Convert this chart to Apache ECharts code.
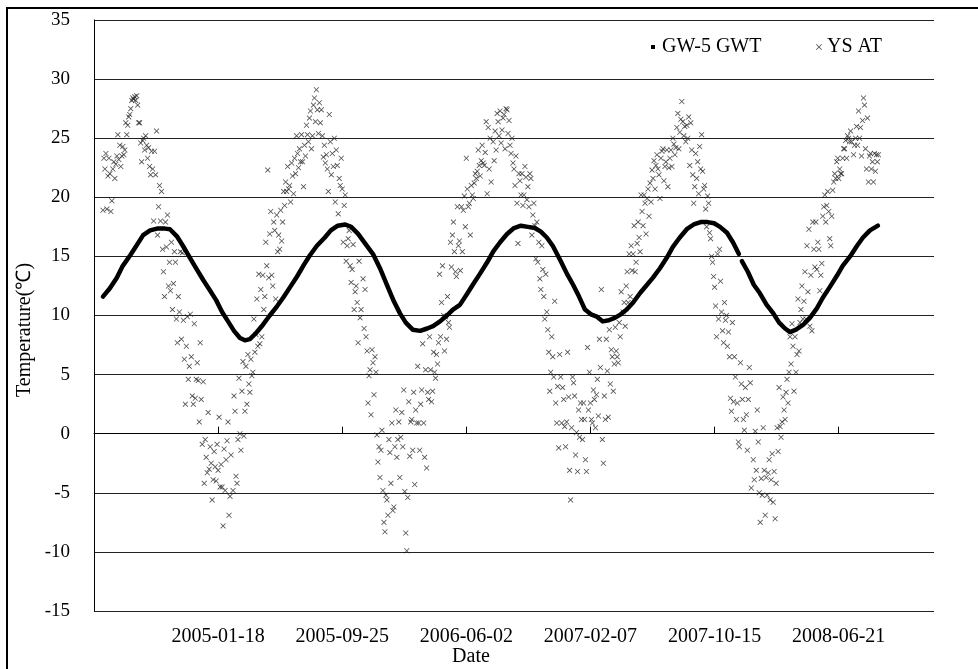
<!DOCTYPE html>
<html><head><meta charset="utf-8">
<script src="https://cdn.jsdelivr.net/npm/echarts@6/dist/echarts.min.js"></script>
<style>html,body{margin:0;padding:0;background:#fff}#c{width:978px;height:669px}</style>
</head><body><div id="c"></div>
<script>
// Day offsets are counted from the axis origin date 2004-05-13
const baseDate = '2004-05-13';
const axisMaxDate = '2008-12-30';
const tickDates = ['2005-01-18','2005-09-25','2006-06-02','2007-02-07','2007-10-15','2008-06-21'];
const yTicks = [-15,-10,-5,0,5,10,15,20,25,30,35];
const seriesNames = ['GW-5 GWT','YS AT'];

// GW-5 groundwater temperature (day offset, value)
const gwtDays = [18,32,46,58,73,87,99,113,127,143,153,167,179,193,207,220,234,246,258,270,282,294,304,314,326,340,354,369,381,395,409,423,435,449,465,477,491,506,518,532,546,562,576,590,604,616,628,642,657,671,683,697,711,723,737,751,763,777,792,804,818,832,846,860,874,888,900,912,924,939,953,965,977,989,1001,1013,1025,1037,1049,1061,1073,1086,1100,1114,1126,1140,1154,1166,1180,1194,1208,1222,1236,1249,1261,1275,1287,1299,1303,1305,1317,1329,1341,1355,1368,1380,1392,1402,1414,1428,1442,1456,1468,1482,1497,1508,1523,1537,1549,1563,1579];
const gwtValues = [11.6,12.3,13.2,14.2,15.1,16.0,16.8,17.2,17.35,17.35,17.3,16.7,15.9,14.9,13.9,13.0,12.1,11.3,10.3,9.5,8.7,8.1,7.9,8.0,8.5,9.2,10.0,10.8,11.5,12.4,13.3,14.3,15.1,15.9,16.6,17.2,17.6,17.7,17.5,16.9,16.1,15.2,14.0,12.6,11.2,10.2,9.4,8.8,8.7,8.9,9.1,9.5,10.0,10.5,10.9,11.8,12.6,13.5,14.5,15.4,16.2,16.9,17.4,17.6,17.5,17.4,17.1,16.6,15.9,14.7,13.5,12.6,11.6,10.5,10.1,9.9,9.5,9.6,9.8,10.1,10.5,11.1,11.9,12.6,13.2,14.0,14.9,15.8,16.6,17.3,17.7,17.9,17.9,17.8,17.5,17.0,16.2,15.2,null,14.6,13.7,12.6,11.9,10.9,10.2,9.4,8.9,8.6,8.8,9.2,9.8,10.6,11.5,12.4,13.4,14.2,15.0,15.9,16.6,17.2,17.6];

// YS air temperature: one reading every 2 days from day offset 18 (null = missing)
const atStartDay = 18;
const atStepDays = 2;
const atValues = [
18.9,23.3,22.4,23.7,19.0,21.8,23.3,22.0,18.8,19.7,
22.4,23.0,21.6,22.8,23.5,25.3,23.2,24.4,22.6,23.5,
24.3,23.6,24.0,26.3,25.3,26.1,26.8,27.0,27.5,28.2,
28.4,28.3,28.5,28.2,28.6,27.8,26.3,26.3,24.6,23.0,
24.8,25.0,24.0,25.2,24.4,23.3,24.2,22.6,21.9,23.9,
22.4,18.0,23.9,21.9,25.6,16.8,19.2,21.0,18.0,20.5,
15.6,13.7,11.6,17.9,15.8,18.5,12.5,14.5,12.1,16.2,
10.5,12.7,15.4,14.5,9.7,7.7,11.6,10.3,15.4,8.0,
15.3,9.6,6.3,2.5,7.4,9.9,4.6,5.7,10.1,6.5,
3.2,2.5,9.3,3.0,4.6,6.0,4.5,1.0,7.7,2.9,
-0.9,4.4,-4.2,-0.5,-2.0,-3.3,1.8,-3.0,-1.1,-2.5,
-5.6,-3.9,-1.5,-2.8,-4.0,-0.9,-3.1,1.4,-4.5,-2.6,
-4.5,-7.8,-1.3,-4.8,-2.2,-0.6,1.0,-6.9,-5.3,-1.8,
null,-4.8,3.2,1.9,-3.6,-4.2,-0.5,4.7,0.0,-1.4,3.6,
6.1,-0.2,1.9,5.7,2.5,6.7,4.2,3.5,6.3,4.9,
5.2,9.7,6.9,8.4,11.4,7.4,13.5,7.6,12.2,8.2,
13.4,10.5,11.6,16.2,14.2,22.3,13.2,16.9,18.8,13.4,
12.5,17.9,17.2,11.4,18.5,15.4,16.8,15.6,18.9,16.3,
17.9,20.5,19.3,21.3,20.5,22.6,20.7,21.0,19.6,22.9,
21.8,20.3,23.3,22.0,25.2,23.7,22.5,24.1,23.0,25.3,
23.0,20.9,24.4,23.5,26.1,25.3,24.7,26.7,27.3,24.1,
25.2,27.8,28.4,26.4,29.1,27.4,25.4,28.0,26.3,27.4,
25.2,23.4,24.4,22.9,23.6,22.4,20.5,27.0,24.7,21.9,
23.7,22.6,25.0,19.6,24.0,22.7,18.6,21.6,21.0,23.3,
20.7,16.2,19.3,20.2,14.6,15.9,16.5,17.2,14.2,12.8,
13.9,16.0,10.5,12.0,12.5,11.1,7.7,14.6,9.8,10.5,
null,13.1,8.9,12.2,8.2,7.0,2.6,4.9,5.4,1.6,7.1,
6.0,3.3,6.5,5.2,-0.1,-2.4,-1.1,-3.7,-1.4,0.3,
-4.8,-7.5,-8.3,-5.2,-5.6,-6.9,-0.5,-1.6,-4.2,0.9,
-6.5,-6.2,-1.1,2.0,-2.0,-0.5,1.0,-3.7,-0.3,1.8,
-1.1,3.7,-4.9,-8.4,-9.9,-5.4,2.7,-1.9,1.0,1.2,
-1.4,3.5,-4.3,2.0,0.9,5.7,0.9,-1.4,2.5,3.7,
7.6,0.9,-2.0,5.4,-2.9,3.5,2.9,8.2,5.4,2.7,
3.6,6.9,5.2,4.7,6.7,5.9,7.7,13.5,8.2,11.1,
14.2,10.0,7.0,9.9,8.0,11.6,9.4,9.0,16.2,14.1,
16.8,17.9,15.4,13.7,13.3,19.2,15.9,16.3,13.8,19.2,
15.4,18.9,20.1,17.5,23.3,20.7,19.2,19.5,16.8,21.0,
20.2,19.9,21.2,22.0,21.6,22.2,24.0,22.7,21.8,23.1,
24.4,22.9,22.7,23.8,26.4,20.3,25.9,22.4,25.0,21.3,
null,24.7,23.1,25.6,24.0,27.1,26.4,25.2,27.3,24.6,25.7,
26.7,27.0,24.1,27.5,27.4,25.4,26.5,24.4,23.7,25.0,
22.9,22.4,21.0,23.5,19.5,16.1,22.0,21.4,20.2,22.0,
19.3,20.2,22.6,21.7,19.8,20.9,19.2,22.0,21.6,16.8,
18.5,19.5,17.6,14.8,17.9,14.5,16.2,13.1,12.2,15.9,
13.9,11.6,9.7,13.5,10.3,8.8,6.9,3.6,5.2,8.2,
6.5,4.8,11.2,2.6,0.9,4.0,-1.2,6.7,4.8,0.9,
3.9,2.9,0.6,-1.1,1.0,6.9,3.1,-3.1,-5.6,0.5,
4.8,4.3,3.2,-1.8,0.1,-3.2,2.0,-0.3,2.6,1.2,
-0.5,2.6,1.2,-2.2,-3.2,7.3,2.0,5.2,2.6,1.2,
0.9,3.7,2.9,0.5,3.3,4.6,1.5,8.0,5.6,12.2,
-0.5,-2.5,3.2,1.2,8.0,5.3,1.4,8.8,4.2,7.1,
6.5,3.6,5.9,9.0,7.0,6.5,6.0,9.4,8.2,12.0,
null,10.3,11.1,9.1,12.5,13.7,11.1,15.2,11.6,15.9,13.8,
15.2,17.6,13.7,14.5,16.1,17.9,16.6,15.4,20.2,18.8,
17.6,20.2,19.5,16.9,19.9,20.7,18.4,21.2,19.6,22.3,
21.6,23.1,20.7,22.7,23.6,22.4,21.9,19.9,23.3,23.9,
24.1,21.4,22.6,23.0,24.0,20.9,22.5,23.3,24.0,22.6,
25.0,24.5,23.6,24.2,25.9,27.1,24.1,25.5,26.6,28.1,
26.4,25.2,26.0,24.7,26.1,25.0,26.8,22.7,26.3,24.0,
21.9,19.5,20.9,23.7,21.6,23.0,20.3,24.3,22.4,25.3,
22.2,20.7,21.0,19.0,17.5,20.1,19.5,17.0,16.5,15.0,
14.5,13.3,12.4,10.8,8.2,15.2,9.7,15.6,12.9,10.3,
8.7,7.7,11.1,9.6,10.0,7.4,8.6,6.5,3.0,1.9,
9.4,2.7,6.5,4.8,1.2,2.6,-0.7,-1.1,6.0,4.2,
2.9,1.2,0.3,3.9,1.6,-1.4,2.9,5.6,4.3,-4.6,
null,-2.2,-3.9,0.2,-3.1,2.0,-0.7,-5.0,-7.5,-3.8,-5.2,
0.5,-3.1,-6.9,-3.7,-5.2,-3.3,-2.2,-5.6,-3.9,-1.7,
-5.8,-3.2,-7.2,-4.2,0.5,-1.5,3.9,0.6,-0.3,1.0,
3.1,2.0,1.2,3.5,4.6,2.6,5.2,8.2,5.9,9.3,
7.4,3.6,8.2,5.2,6.7,11.4,7.0,9.4,10.5,12.5,
9.7,11.2,13.7,9.7,15.9,12.0,17.3,9.1,13.4,8.7,
17.9,15.6,14.1,17.9,13.9,16.2,15.6,12.1,13.4,14.4,
18.4,19.2,20.2,17.9,19.3,20.5,18.8,16.5,15.9,18.4,
20.6,21.3,22.0,21.6,23.0,23.3,21.6,22.4,22.0,22.0,
23.3,24.1,24.1,24.8,23.3,25.2,25.0,24.7,25.6,24.7,
null,23.6,24.4,25.0,26.0,24.4,27.3,25.0,25.9,23.5,26.5,
28.4,27.8,24.1,22.4,26.7,21.3,23.5,23.7,22.4,23.0,
21.3,23.7,22.2,23.6,23.0,23.6
];

const DAY = 86400000;
const base = Date.parse(baseDate + 'T00:00:00Z');
const toDay = s => Math.round((Date.parse(s + 'T00:00:00Z') - base) / DAY);
const fmt = d => new Date(base + d * DAY).toISOString().slice(0, 10);
const tickDays = tickDates.map(toDay);
const gwtData = gwtDays.map((d, i) => [d, gwtValues[i]]);
const atData = [];
atValues.forEach((v, i) => { if (v !== null) atData.push([atStartDay + i * atStepDays, v]); });

const SERIF = '"Liberation Serif","Times New Roman",serif';
const xPath = 'path://M0,1L1,0L5,4L9,0L10,1L6,5L10,9L9,10L5,6L1,10L0,9L4,5Z';

const chart = echarts.init(document.getElementById('c'), null, {renderer: 'canvas'});
chart.setOption({
  animation: false,
  backgroundColor: '#fff',
  grid: {left: 94, right: 44, top: 20, bottom: 58, containLabel: false},
  legend: [
    {data: [{name: seriesNames[0], icon: 'rect'}], left: 651, top: 37, padding: 0,
     itemWidth: 4, itemHeight: 4, textStyle: {fontFamily: SERIF, fontSize: 20, color: '#000', padding: [0,0,0,2]}},
    {data: [{name: seriesNames[1], icon: xPath}], left: 816, top: 37, padding: 0,
     itemWidth: 6, itemHeight: 6, textStyle: {fontFamily: SERIF, fontSize: 20, color: '#000'}}
  ],
  xAxis: {
    type: 'value', min: 0, max: toDay(axisMaxDate), interval: 250,
    axisLine: {show: true, lineStyle: {color: '#000', width: 1}},
    axisTick: {show: true, inside: true, length: 7, customValues: tickDays, lineStyle: {color: '#000'}},
    axisLabel: {customValues: tickDays, formatter: v => fmt(v), fontFamily: SERIF, fontSize: 20, color: '#000', margin: 16},
    splitLine: {show: false}
  },
  yAxis: {
    type: 'value', min: yTicks[0], max: yTicks[yTicks.length - 1], interval: 5,
    axisLine: {show: true, lineStyle: {color: '#000', width: 1}},
    axisTick: {show: false},
    axisLabel: {fontFamily: SERIF, fontSize: 19, color: '#000', margin: 24},
    splitLine: {show: true, lineStyle: {color: '#222', width: 1}}
  },
  graphic: [
    {type: 'rect', shape: {x: 7, y: 8, width: 1000, height: 700}, style: {fill: null, stroke: '#000', lineWidth: 2}, silent: true, z: -1},
    {type: 'text', x: 25, y: 330, rotation: Math.PI / 2,
     style: {text: 'Temperature(℃)', font: '20px ' + SERIF, fill: '#000', align: 'center', verticalAlign: 'middle'}},
    {type: 'text', x: 471, y: 657,
     style: {text: 'Date', font: '20px ' + SERIF, fill: '#000', align: 'center', verticalAlign: 'middle'}}
  ],
  series: [
    {name: seriesNames[1], type: 'scatter', data: atData, symbol: xPath, symbolSize: 5.5,
     itemStyle: {color: '#222'}, z: 2},
    {name: seriesNames[0], type: 'line', data: gwtData, showSymbol: false, connectNulls: false,
     lineStyle: {color: '#000', width: 4.5, cap: 'round', join: 'round'}, itemStyle: {color: '#000'}, z: 3}
  ]
});
</script></body></html>
